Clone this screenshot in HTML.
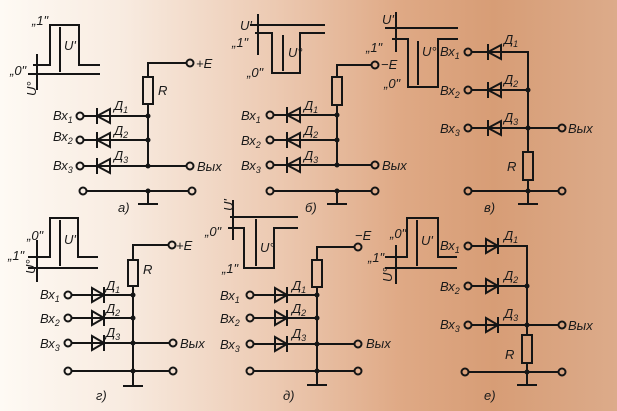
<!DOCTYPE html>
<html><head><meta charset="utf-8"><style>
html,body{margin:0;padding:0;width:617px;height:411px;overflow:hidden}
body{background:linear-gradient(90deg,#fefaf4 0%,#f8ebe0 20%,#ecc9b1 45%,#dfa985 65%,#d79d76 80%,#dcab8a 100%)}
svg{position:absolute;left:0;top:0}
text{font-family:"Liberation Sans",sans-serif;font-style:italic;font-size:13px;fill:#1a1a1a}
.s{font-size:9px}
</style></head><body>
<svg width="617" height="411" viewBox="0 0 617 411" xmlns="http://www.w3.org/2000/svg">
<defs>
<g id="dl" stroke="#151515" stroke-width="2" fill="none"><polygon points="0,0 13,-7 13,7"/><line x1="0" y1="-8" x2="0" y2="8"/></g>
<g id="dr" stroke="#151515" stroke-width="2" fill="none"><polygon points="0,-7 0,7 12,0"/><line x1="12" y1="-8" x2="12" y2="8"/></g>
</defs>
<g stroke="#151515" stroke-width="2" fill="none">
<path d="M84,116H148M84,140H148M84,166H186M148,104V166M148,77V63H186M87,191H188M148,191V203M138,204H158"/>
<rect x="143" y="77" width="10" height="27"/>
<circle cx="80" cy="116" r="3.5"/><circle cx="80" cy="140" r="3.5"/><circle cx="80" cy="166" r="3.5"/>
<circle cx="190" cy="63" r="3.5"/><circle cx="190" cy="166" r="3.5"/><circle cx="83" cy="191" r="3.5"/><circle cx="192" cy="191" r="3.5"/>
<path d="M33,65H50V25H79V65H100M28,74H100M60,27V72M37,54V90"/>
<path d="M274,115H337M274,140H337M274,165H371M337,105V165M337,77V65H371M274,191H371M337,191V203M327,204H347"/>
<rect x="332" y="77" width="10" height="28"/>
<circle cx="270" cy="115" r="3.5"/><circle cx="270" cy="140" r="3.5"/><circle cx="270" cy="165" r="3.5"/>
<circle cx="375" cy="65" r="3.5"/><circle cx="375" cy="165" r="3.5"/><circle cx="270" cy="191" r="3.5"/><circle cx="375" cy="191" r="3.5"/>
<path d="M250,25H325M255,33H272V73H300V33H325M283,35V71M258,14V55"/>
<path d="M472,52H528V152M472,90H528M472,128H558M528,180V191M472,191H558M528,191V203M518,204H538"/>
<rect x="523" y="152" width="10" height="28"/>
<circle cx="468" cy="52" r="3.5"/><circle cx="468" cy="90" r="3.5"/><circle cx="468" cy="128" r="3.5"/>
<circle cx="562" cy="128" r="3.5"/><circle cx="468" cy="191" r="3.5"/><circle cx="562" cy="191" r="3.5"/>
<path d="M385,28H458M392,39H408V87H438V39H458M418,41V85M396,12V52"/>
<path d="M72,295H133M72,318H133M72,343H169M133,286V371M133,260V245H168M72,371H169M133,371V385M123,386H143"/>
<rect x="128" y="260" width="10" height="26"/>
<circle cx="68" cy="295" r="3.5"/><circle cx="68" cy="318" r="3.5"/><circle cx="68" cy="343" r="3.5"/>
<circle cx="172" cy="245" r="3.5"/><circle cx="173" cy="343" r="3.5"/><circle cx="68" cy="371" r="3.5"/><circle cx="173" cy="371" r="3.5"/>
<path d="M28,257H50V218H78V257H98M28,268H98M60,220V266M37,240V282"/>
<path d="M254,295H317M254,318H317M254,344H354M317,287V384M317,260V247H354M254,371H354M307,385H327"/>
<rect x="312" y="260" width="10" height="27"/>
<circle cx="250" cy="295" r="3.5"/><circle cx="250" cy="318" r="3.5"/><circle cx="250" cy="344" r="3.5"/>
<circle cx="358" cy="247" r="3.5"/><circle cx="358" cy="344" r="3.5"/><circle cx="250" cy="371" r="3.5"/><circle cx="358" cy="371" r="3.5"/>
<path d="M230,217H298M228,228H244V268H274V228H298M256,219V266M233,200V240"/>
<path d="M472,246H527V335M472,286H527M472,325H558M527,363V384M469,372H558M517,385H537"/>
<rect x="522" y="335" width="10" height="28"/>
<circle cx="468" cy="246" r="3.5"/><circle cx="468" cy="286" r="3.5"/><circle cx="468" cy="325" r="3.5"/>
<circle cx="562" cy="325" r="3.5"/><circle cx="465" cy="372" r="3.5"/><circle cx="562" cy="372" r="3.5"/>
<path d="M385,257H407V218H438V257H457M385,268H457M417,220V266M396,245V284"/>
</g>
<g fill="#151515">
<use href="#dl" x="97" y="116"/><use href="#dl" x="97" y="140"/><use href="#dl" x="97" y="166"/>
<use href="#dl" x="287" y="115"/><use href="#dl" x="287" y="140"/><use href="#dl" x="287" y="165"/>
<use href="#dl" x="488" y="52"/><use href="#dl" x="488" y="90"/><use href="#dl" x="488" y="128"/>
<use href="#dr" x="92" y="295"/><use href="#dr" x="92" y="318"/><use href="#dr" x="92" y="343"/>
<use href="#dr" x="275" y="295"/><use href="#dr" x="275" y="318"/><use href="#dr" x="275" y="344"/>
<use href="#dr" x="486" y="246"/><use href="#dr" x="486" y="286"/><use href="#dr" x="486" y="325"/>
<circle cx="148" cy="116" r="2.5"/><circle cx="148" cy="140" r="2.5"/><circle cx="148" cy="166" r="2.5"/><circle cx="148" cy="191" r="2.5"/>
<circle cx="337" cy="115" r="2.5"/><circle cx="337" cy="140" r="2.5"/><circle cx="337" cy="165" r="2.5"/><circle cx="337" cy="191" r="2.5"/>
<circle cx="528" cy="90" r="2.5"/><circle cx="528" cy="128" r="2.5"/><circle cx="528" cy="191" r="2.5"/>
<circle cx="133" cy="295" r="2.5"/><circle cx="133" cy="318" r="2.5"/><circle cx="133" cy="343" r="2.5"/><circle cx="133" cy="371" r="2.5"/>
<circle cx="317" cy="295" r="2.5"/><circle cx="317" cy="318" r="2.5"/><circle cx="317" cy="344" r="2.5"/><circle cx="317" cy="371" r="2.5"/>
<circle cx="527" cy="286" r="2.5"/><circle cx="527" cy="325" r="2.5"/><circle cx="527" cy="372" r="2.5"/>
</g>
<text x="53" y="141">Вх<tspan class="s" dy="3">2</tspan></text>
<text x="53" y="120">Вх<tspan class="s" dy="3">1</tspan></text>
<text x="53" y="170">Вх<tspan class="s" dy="3">3</tspan></text>
<text x="114" y="110">Д<tspan class="s" dy="3">1</tspan></text><text x="114" y="135">Д<tspan class="s" dy="3">2</tspan></text><text x="114" y="160">Д<tspan class="s" dy="3">3</tspan></text>
<text x="158" y="95">R</text><text x="196" y="68">+E</text><text x="197" y="171">Вых</text><text x="118" y="212">а)</text>
<text x="32" y="25">„1"</text><text x="10" y="75">„0"</text><text x="64" y="50">U'</text><text x="22" y="98" transform="rotate(-90 28 90)">U°</text>

<text x="241" y="120">Вх<tspan class="s" dy="3">1</tspan></text><text x="241" y="145">Вх<tspan class="s" dy="3">2</tspan></text><text x="241" y="170">Вх<tspan class="s" dy="3">3</tspan></text>
<text x="304" y="110">Д<tspan class="s" dy="3">1</tspan></text><text x="304" y="135">Д<tspan class="s" dy="3">2</tspan></text><text x="304" y="160">Д<tspan class="s" dy="3">3</tspan></text>
<text x="381" y="69">−E</text><text x="382" y="170">Вых</text><text x="305" y="212">б)</text>
<text x="232" y="47">„1"</text><text x="247" y="77">„0"</text><text x="288" y="57">U°</text><text x="240" y="30">U'</text>

<text x="440" y="56">Вх<tspan class="s" dy="3">1</tspan></text><text x="440" y="95">Вх<tspan class="s" dy="3">2</tspan></text><text x="440" y="133">Вх<tspan class="s" dy="3">3</tspan></text>
<text x="504" y="44">Д<tspan class="s" dy="3">1</tspan></text><text x="504" y="84">Д<tspan class="s" dy="3">2</tspan></text><text x="504" y="122">Д<tspan class="s" dy="3">3</tspan></text>
<text x="568" y="133">Вых</text><text x="507" y="171">R</text><text x="484" y="212">в)</text>
<text x="366" y="52">„1"</text><text x="384" y="88">„0"</text><text x="422" y="56">U°</text><text x="382" y="24">U'</text>

<text x="40" y="299">Вх<tspan class="s" dy="3">1</tspan></text><text x="40" y="323">Вх<tspan class="s" dy="3">2</tspan></text><text x="40" y="348">Вх<tspan class="s" dy="3">3</tspan></text>
<text x="106" y="290">Д<tspan class="s" dy="3">1</tspan></text><text x="106" y="313">Д<tspan class="s" dy="3">2</tspan></text><text x="106" y="337">Д<tspan class="s" dy="3">3</tspan></text>
<text x="143" y="274">R</text><text x="176" y="250">+E</text><text x="180" y="348">Вых</text><text x="96" y="400">г)</text>
<text x="27" y="240">„0"</text><text x="8" y="260">„1"</text><text x="64" y="244">U'</text><text x="22" y="275" transform="rotate(-90 28 268)">U°</text>

<text x="220" y="300">Вх<tspan class="s" dy="3">1</tspan></text><text x="220" y="323">Вх<tspan class="s" dy="3">2</tspan></text><text x="220" y="349">Вх<tspan class="s" dy="3">3</tspan></text>
<text x="292" y="290">Д<tspan class="s" dy="3">1</tspan></text><text x="292" y="313">Д<tspan class="s" dy="3">2</tspan></text><text x="292" y="338">Д<tspan class="s" dy="3">3</tspan></text>
<text x="355" y="240">−E</text><text x="366" y="348">Вых</text><text x="283" y="400">д)</text>
<text x="205" y="236">„0"</text><text x="222" y="273">„1"</text><text x="260" y="252">U°</text><text x="222" y="210" transform="rotate(-90 228 205)">U'</text>

<text x="440" y="250">Вх<tspan class="s" dy="3">1</tspan></text><text x="440" y="291">Вх<tspan class="s" dy="3">2</tspan></text><text x="440" y="329">Вх<tspan class="s" dy="3">3</tspan></text>
<text x="504" y="240">Д<tspan class="s" dy="3">1</tspan></text><text x="504" y="280">Д<tspan class="s" dy="3">2</tspan></text><text x="504" y="318">Д<tspan class="s" dy="3">3</tspan></text>
<text x="568" y="330">Вых</text><text x="505" y="359">R</text><text x="484" y="400">е)</text>
<text x="390" y="238">„0"</text><text x="368" y="262">„1"</text><text x="421" y="245">U'</text><text x="380" y="282" transform="rotate(-90 386 276)">U°</text>
</svg>
</body></html>
